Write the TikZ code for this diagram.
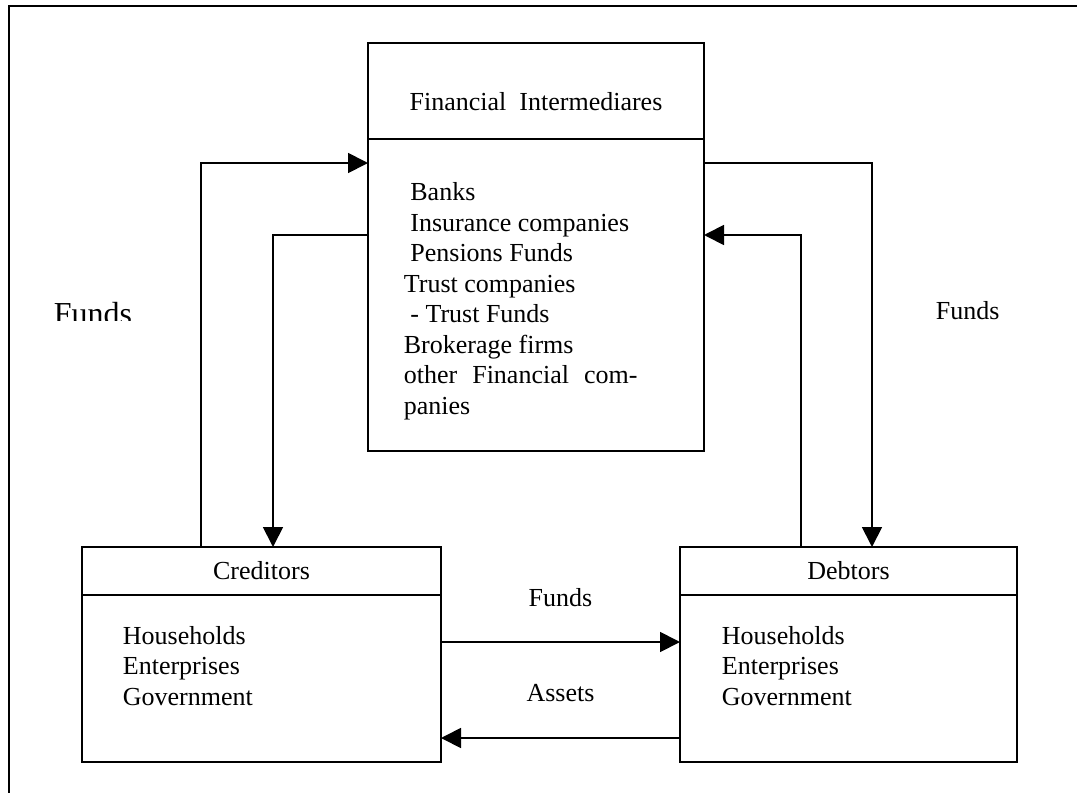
\documentclass[tikz,border=0pt]{standalone}
\usepackage{fontspec}
\setmainfont{Liberation Serif}
\usetikzlibrary{arrows.meta,positioning}

\begin{document}
\begin{tikzpicture}[
  x=0.5pt, y=-0.5pt,
  line width=0.9pt,
  every node/.style={font=\fontsize{13}{15.25}\selectfont},
  box/.style={draw, rectangle, outer sep=0pt, inner sep=0pt},
  lst/.style={align=left, inner sep=0pt, anchor=base west},
  lbl/.style={inner sep=0pt, anchor=base},
  arr/.style={-{Triangle[length=10pt, width=10pt]}}
]
\useasboundingbox (0,0) rectangle (1077,793);
\draw (9,793) -- (9,6) -- (1077,6);

% levels of the connectors
\coordinate (lvlA) at (0,163);
\coordinate (lvlB) at (0,235);
\coordinate (lvlC) at (0,642);
\coordinate (lvlD) at (0,738);

\node[box, minimum width=168pt, minimum height=48pt] (fint) at (536,91) {};
\node[box, minimum width=168pt, minimum height=156pt, below=0pt of fint] (finb) {};
\node[box, minimum width=179.5pt, minimum height=24pt] (credt) at (261.5,571) {Creditors};
\node[box, minimum width=179.5pt, minimum height=83.5pt, below=0pt of credt] (credb) {};
\node[box, minimum width=168.5pt, minimum height=24pt] (debtt) at (848.5,571) {Debtors};
\node[box, minimum width=168.5pt, minimum height=83.5pt, below=0pt of debtt] (debtb) {};

% lists are anchored at the baseline of their last line
\node[lbl] (fintitle) at (536,110) {Financial\ \ Intermediares};
\node[lst] (finlist) at (403,414) {\hspace*{3.25pt}Banks\\
  \hspace*{3.25pt}Insurance companies\\
  \hspace*{3.25pt}Pensions Funds\\
  Trust companies\\
  \hspace*{3.25pt}- Trust Funds\\
  Brokerage firms\\
  other\hspace{7.5pt}Financial\hspace{7.5pt}com-\\
  panies};
\node[lst] (credlist) at (122,705) {Households\\Enterprises\\Government};
\node[lst] (debtlist) at (721,705) {Households\\Enterprises\\Government};

\node[lbl] (fundsmid) at (560.5,606) {Funds};
\node[lbl] (assets) at (560.5,701) {Assets};
\node[lbl, anchor=base west] (fundsright) at (935,319) {Funds};
\begin{scope}
  \clip (40,290) rectangle (160,320.5);
  \node[lbl, anchor=base west, font=\fontsize{16}{19}\selectfont] (fundsleft) at (53,324) {Funds};
\end{scope}

\draw[arr] ([xshift=-30.25pt]credt.north) |- (finb.west |- lvlA);
\draw[arr] (finb.west |- lvlB) -| ([xshift=5.75pt]credt.north);
\draw[arr] (finb.east |- lvlA) -| ([xshift=11.75pt]debtt.north);
\draw[arr] ([xshift=-23.75pt]debtt.north) |- (finb.east |- lvlB);
\draw[arr] (credb.east |- lvlC) -- (debtb.west |- lvlC);
\draw[arr] (debtb.west |- lvlD) -- (credb.east |- lvlD);
\end{tikzpicture}
\end{document}
